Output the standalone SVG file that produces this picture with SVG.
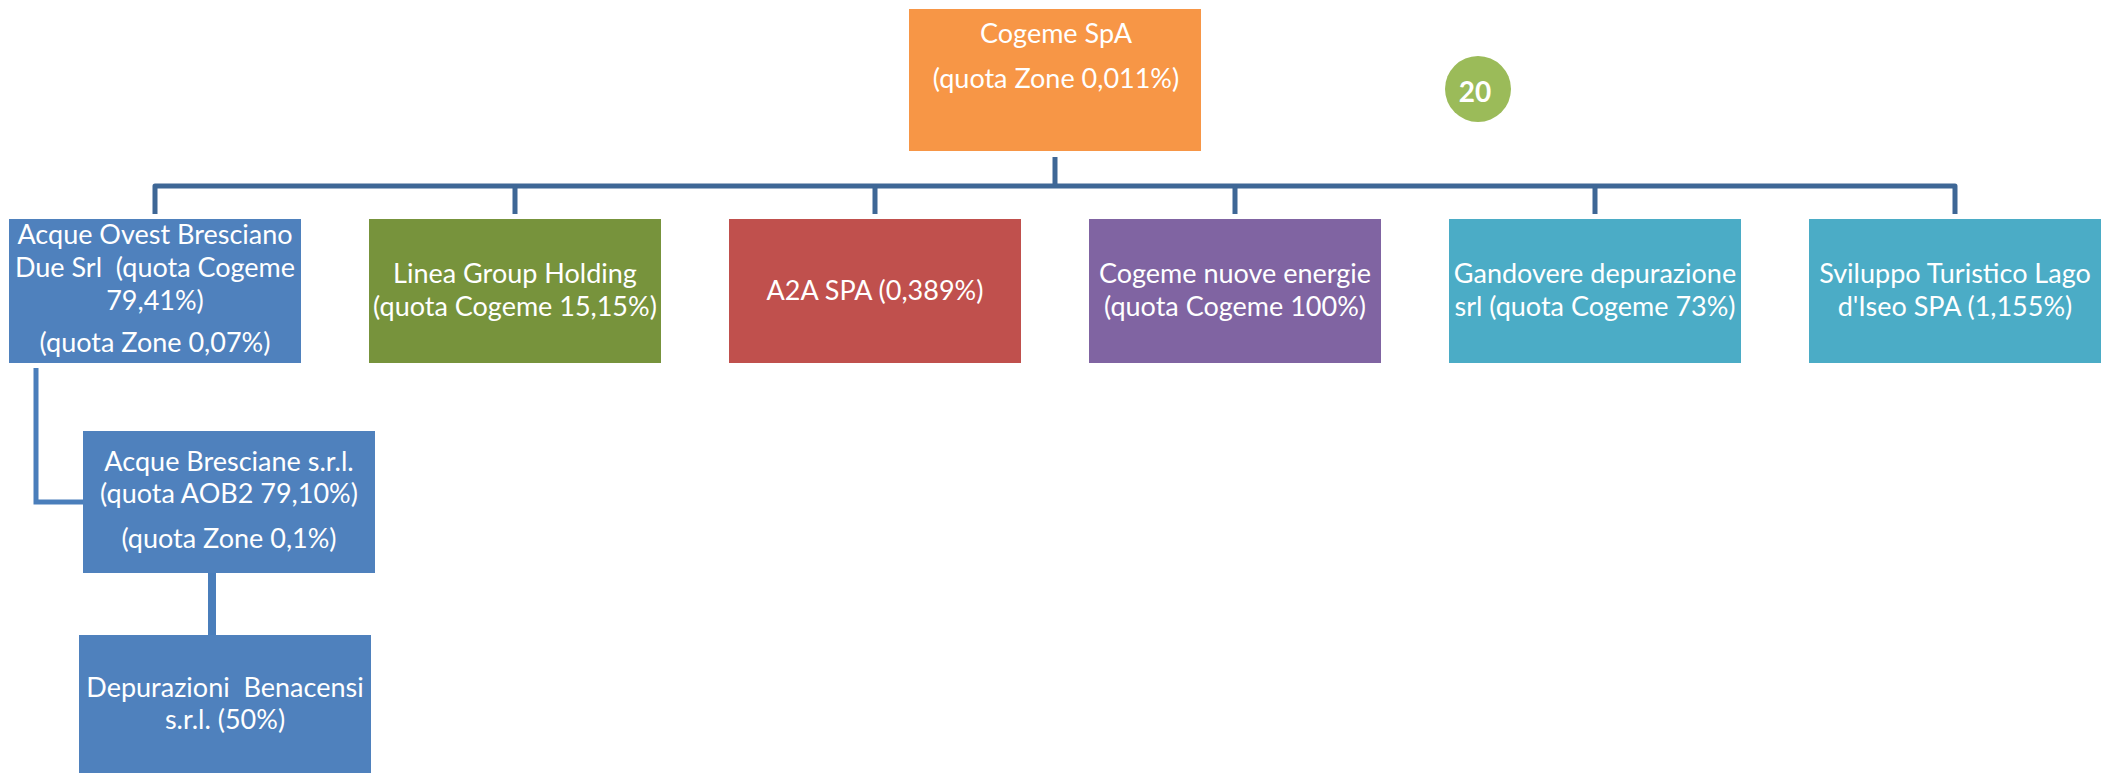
<svg xmlns="http://www.w3.org/2000/svg" width="2114" height="773" viewBox="0 0 2114 773">
<style>
  .t{font-family:Lato,"Open Sans","Liberation Sans",sans-serif;font-size:27px;fill:#ffffff;text-anchor:middle}
  .c1{fill:none;stroke:#3e6796;stroke-width:5;stroke-linejoin:round}
  .c2{fill:none;stroke:#4a7ebb;stroke-width:5}
  .c3{fill:none;stroke:#4a7ebb;stroke-width:8}
</style>
<rect x="0" y="0" width="2114" height="773" fill="#ffffff"/>
<g id="connectors">
  <path class="c1" d="M1055,157 V186"/>
  <path class="c1" d="M155,214 V186 H1955 V214"/>
  <path class="c1" d="M515,186 V214 M875,186 V214 M1235,186 V214 M1595,186 V214"/>
  <path class="c2" d="M36,368 V502 H83"/>
  <path class="c3" d="M212,573 V635"/>
</g>
<g id="cogeme">
  <rect x="909" y="9" width="292" height="142" fill="#f79646"/>
  <text class="t" x="1056" y="43">Cogeme SpA</text>
  <text class="t" x="1056" y="88">(quota Zone 0,011%)</text>
</g>
<g id="badge20">
  <circle cx="1478" cy="89" r="33" fill="#9bbb59"/>
  <text x="1475" y="102" font-family="Lato,'Open Sans','Liberation Sans',sans-serif" font-size="28" font-weight="bold" fill="#ffffff" text-anchor="middle">20</text>
</g>
<g id="aob2">
  <rect x="9" y="219" width="292" height="144" fill="#4f81bd"/>
  <text class="t" x="155" y="244">Acque Ovest Bresciano</text>
  <text class="t" x="155" y="277" xml:space="preserve">Due Srl  (quota Cogeme</text>
  <text class="t" x="155" y="310">79,41%)</text>
  <text class="t" x="155" y="352">(quota Zone 0,07%)</text>
</g>
<g id="linea">
  <rect x="369" y="219" width="292" height="144" fill="#77933c"/>
  <text class="t" x="515" y="283">Linea Group Holding</text>
  <text class="t" x="515" y="316">(quota Cogeme 15,15%)</text>
</g>
<g id="a2a">
  <rect x="729" y="219" width="292" height="144" fill="#c0504d"/>
  <text class="t" x="875" y="300">A2A SPA (0,389%)</text>
</g>
<g id="nuove">
  <rect x="1089" y="219" width="292" height="144" fill="#8064a2"/>
  <text class="t" x="1235" y="283">Cogeme nuove energie</text>
  <text class="t" x="1235" y="316">(quota Cogeme 100%)</text>
</g>
<g id="gandovere">
  <rect x="1449" y="219" width="292" height="144" fill="#4bacc6"/>
  <text class="t" x="1595" y="283">Gandovere depurazione</text>
  <text class="t" x="1595" y="316">srl (quota Cogeme 73%)</text>
</g>
<g id="sviluppo">
  <rect x="1809" y="219" width="292" height="144" fill="#4bacc6"/>
  <text class="t" x="1955" y="283">Sviluppo Turistico Lago</text>
  <text class="t" x="1955" y="316">d'Iseo SPA (1,155%)</text>
</g>
<g id="acquebresciane">
  <rect x="83" y="431" width="292" height="142" fill="#4f81bd"/>
  <text class="t" x="229" y="471">Acque Bresciane s.r.l.</text>
  <text class="t" x="229" y="503">(quota AOB2 79,10%)</text>
  <text class="t" x="229" y="548">(quota Zone 0,1%)</text>
</g>
<g id="depurazioni">
  <rect x="79" y="635" width="292" height="140" fill="#4f81bd"/>
  <text class="t" x="225" y="697" xml:space="preserve">Depurazioni  Benacensi</text>
  <text class="t" x="225" y="729">s.r.l. (50%)</text>
</g>
</svg>
